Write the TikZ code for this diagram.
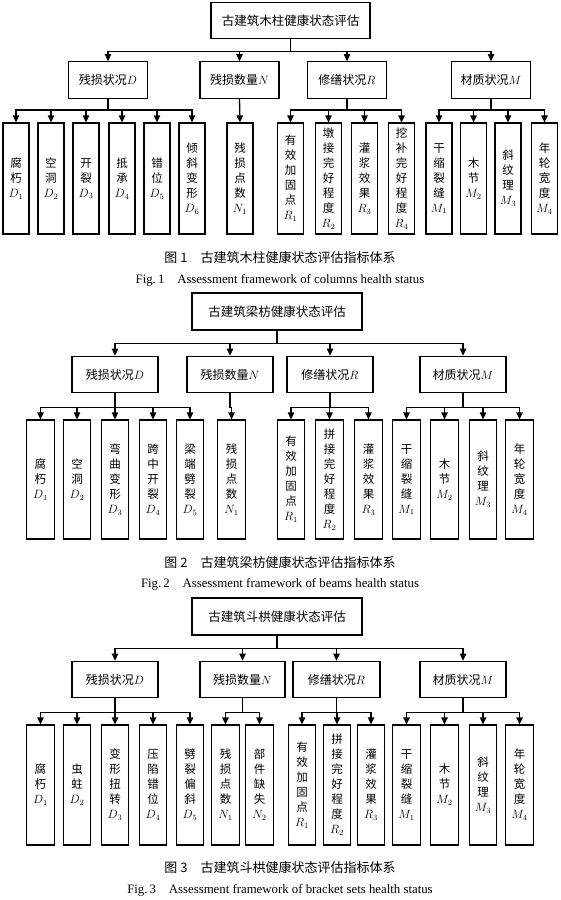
\documentclass[tikz,border=0pt]{standalone}
\usepackage{fontspec}
\setmainfont{Liberation Serif}
\newfontfamily\cjk{Noto Sans CJK SC}
\usetikzlibrary{arrows.meta}
\begin{document}
\begin{tikzpicture}[x=1pt,y=-1pt,
  lw/.style={line width=1.3pt},
  box/.style={draw,lw,inner sep=0pt,align=center},
  topbox/.style={box,minimum height=36pt,font=\cjk\fontsize{12.5}{15}\selectfont},
  midbox/.style={box,minimum height=36.5pt,font=\cjk\fontsize{12}{14}\selectfont},
  leaf/.style={box,font=\cjk\fontsize{11.5}{15}\selectfont},
  arr/.style={lw,-{Triangle[length=7pt,width=6.5pt]}},
  capzh/.style={font=\cjk\fontsize{13}{15}\selectfont},
  capen/.style={font=\fontsize{12.8}{14}\selectfont}]
\useasboundingbox (0,0) rectangle (560,900);
\fill[white] (0,0) rectangle (560,900);

% ---------------- Figure 1 ----------------
\node[topbox,minimum width=159pt] (t1) at (290.5,20.5) {古建筑木柱健康状态评估};
\node[midbox,minimum width=79pt] (t1D) at (108,80) {残损状况$D$};
\node[midbox,minimum width=79pt] (t1N) at (239.5,80) {残损数量$N$};
\node[midbox,minimum width=79pt] (t1R) at (347,80) {修缮状况$R$};
\node[midbox,minimum width=79pt] (t1M) at (491,80) {材质状况$M$};
\foreach \x/\n/\t in {16/d1/{腐\\朽\\$D_1$},51/d2/{空\\洞\\$D_2$},86/d3/{开\\裂\\$D_3$},
  122/d4/{抵\\承\\$D_4$},157/d5/{错\\位\\$D_5$},192/d6/{倾\\斜\\变\\形\\$D_6$},
  240/n1/{残\\损\\点\\数\\$N_1$},
  290.5/r1/{有\\效\\加\\固\\点\\$R_1$},328.5/r2/{墩\\接\\完\\好\\程\\度\\$R_2$},
  364.5/r3/{灌\\浆\\效\\果\\$R_3$},401.5/r4/{挖\\补\\完\\好\\程\\度\\$R_4$},
  439/m1/{干\\缩\\裂\\缝\\$M_1$},473.5/m2/{木\\节\\$M_2$},508/m3/{斜\\纹\\理\\$M_3$},
  544.5/m4/{年\\轮\\宽\\度\\$M_4$}}
  \node[leaf,minimum width=26pt,minimum height=111pt] (f1\n) at (\x,178.5) {\t};
\foreach \c in {t1D,t1N,t1R,t1M} \draw[arr] (t1.south) -- ++(0,12) -| (\c.north);
\foreach \c in {d1,d2,d3,d4,d5,d6} \draw[arr] (t1D.south) -- ++(0,11) -| (f1\c.north);
\draw[arr] (t1N.south) -- (f1n1.north);
\foreach \c in {r1,r2,r3,r4} \draw[arr] (t1R.south) -- ++(0,11) -| (f1\c.north);
\foreach \c in {m1,m2,m3,m4} \draw[arr] (t1M.south) -- ++(0,11) -| (f1\c.north);
\node[capzh] (c1a) at (280,257) {图 1\quad 古建筑木柱健康状态评估指标体系};
\node[capen] (c1b) at (280,280) {Fig.\,1\quad Assessment framework of columns health status};

% ---------------- Figure 2 ----------------
\node[topbox,minimum width=170pt,minimum height=37pt] (t2) at (277,311.5) {古建筑梁枋健康状态评估};
\node[midbox,minimum width=86pt] (t2D) at (115,374.5) {残损状况$D$};
\node[midbox,minimum width=86pt] (t2N) at (230,374.5) {残损数量$N$};
\node[midbox,minimum width=86pt] (t2R) at (330,374.5) {修缮状况$R$};
\node[midbox,minimum width=86pt] (t2M) at (463,374.5) {材质状况$M$};
\foreach \x/\n/\t in {40.5/d1/{腐\\朽\\$D_1$},77/d2/{空\\洞\\$D_2$},115/d3/{弯\\曲\\变\\形\\$D_3$},
  153/d4/{跨\\中\\开\\裂\\$D_4$},190/d5/{梁\\端\\劈\\裂\\$D_5$},
  231.5/n1/{残\\损\\点\\数\\$N_1$},
  291/r1/{有\\效\\加\\固\\点\\$R_1$},329.5/r2/{拼\\接\\完\\好\\程\\度\\$R_2$},
  368.5/r3/{灌\\浆\\效\\果\\$R_3$},
  406.5/m1/{干\\缩\\裂\\缝\\$M_1$},444.5/m2/{木\\节\\$M_2$},483/m3/{斜\\纹\\理\\$M_3$},
  519.5/m4/{年\\轮\\宽\\度\\$M_4$}}
  \node[leaf,minimum width=27.5pt,minimum height=119pt] (f2\n) at (\x,479.5) {\t};
\foreach \c in {t2D,t2N,t2R,t2M} \draw[arr] (t2.south) -- ++(0,13) -| (\c.north);
\foreach \c in {d1,d2,d3,d4,d5} \draw[arr] (t2D.south) -- ++(0,14) -| (f2\c.north);
\draw[arr] (t2N.south) -- ++(0,14) -| (f2n1.north);
\foreach \c in {r1,r2,r3} \draw[arr] (t2R.south) -- ++(0,14) -| (f2\c.north);
\foreach \c in {m1,m2,m3,m4} \draw[arr] (t2M.south) -- ++(0,14) -| (f2\c.north);
\node[capzh] (c2a) at (280,563) {图 2\quad 古建筑梁枋健康状态评估指标体系};
\node[capen] (c2b) at (280,584) {Fig.\,2\quad Assessment framework of beams health status};

% ---------------- Figure 3 ----------------
\node[topbox,minimum width=170pt,minimum height=37pt] (t3) at (277,616.5) {古建筑斗栱健康状态评估};
\node[midbox,minimum width=86pt] (t3D) at (115,679.5) {残损状况$D$};
\node[midbox,minimum width=85pt] (t3N) at (242.5,679.5) {残损数量$N$};
\node[midbox,minimum width=87pt] (t3R) at (336.5,679.5) {修缮状况$R$};
\node[midbox,minimum width=86pt] (t3M) at (463,679.5) {材质状况$M$};
\foreach \x/\n/\t in {40.5/d1/{腐\\朽\\$D_1$},77/d2/{虫\\蛀\\$D_2$},115/d3/{变\\形\\扭\\转\\$D_3$},
  153/d4/{压\\陷\\错\\位\\$D_4$},190/d5/{劈\\裂\\偏\\斜\\$D_5$},
  225.5/n1/{残\\损\\点\\数\\$N_1$},259.5/n2/{部\\件\\缺\\失\\$N_2$},
  302/r1/{有\\效\\加\\固\\点\\$R_1$},337/r2/{拼\\接\\完\\好\\程\\度\\$R_2$},
  371/r3/{灌\\浆\\效\\果\\$R_3$},
  406.5/m1/{干\\缩\\裂\\缝\\$M_1$},444.5/m2/{木\\节\\$M_2$},483/m3/{斜\\纹\\理\\$M_3$},
  519.5/m4/{年\\轮\\宽\\度\\$M_4$}}
  \node[leaf,minimum width=27.5pt,minimum height=120pt] (f3\n) at (\x,785) {\t};
\foreach \c in {t3D,t3N,t3R,t3M} \draw[arr] (t3.south) -- ++(0,13) -| (\c.north);
\foreach \c in {d1,d2,d3,d4,d5} \draw[arr] (t3D.south) -- ++(0,14) -| (f3\c.north);
\foreach \c in {n1,n2} \draw[arr] (t3N.south) -- ++(0,14) -| (f3\c.north);
\foreach \c in {r1,r2,r3} \draw[arr] (t3R.south) -- ++(0,14) -| (f3\c.north);
\foreach \c in {m1,m2,m3,m4} \draw[arr] (t3M.south) -- ++(0,14) -| (f3\c.north);
\node[capzh] (c3a) at (280,868) {图 3\quad 古建筑斗栱健康状态评估指标体系};
\node[capen] (c3b) at (280,890) {Fig.\,3\quad Assessment framework of bracket sets health status};
\end{tikzpicture}
\end{document}
